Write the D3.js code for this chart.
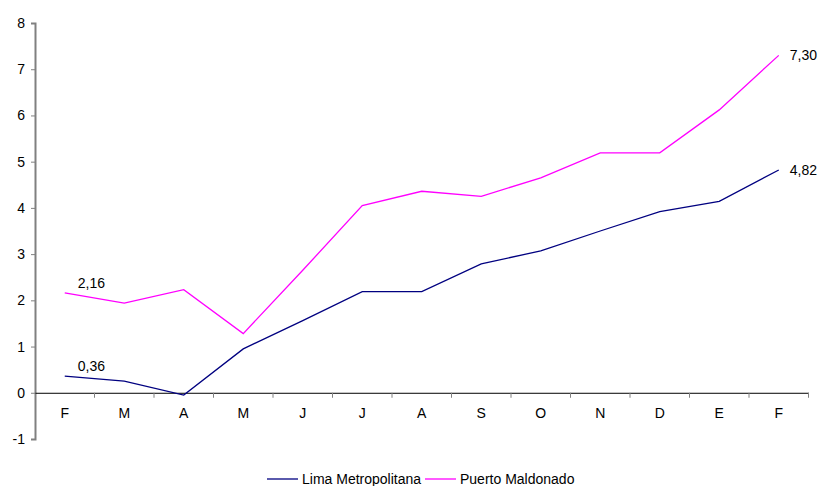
<!DOCTYPE html>
<html>
<head>
<meta charset="utf-8">
<script src="https://cdn.jsdelivr.net/npm/d3@7"></script>
<style>
  body { margin: 0; background: #fff; }
  text { font-family: "Liberation Sans", Arial, sans-serif; fill: #000; }
</style>
</head>
<body>
<div id="container"></div>
<script>
const w = 819;
const h = 486;

const months = ['F', 'M', 'A', 'M', 'J', 'J', 'A', 'S', 'O', 'N', 'D', 'E', 'F'];
const lima = [0.36, 0.25, -0.05, 0.95, 1.56, 2.19, 2.19, 2.79, 3.07, 3.50, 3.92, 4.14, 4.82];
const puerto = [2.16, 1.94, 2.23, 1.28, 2.65, 4.05, 4.36, 4.25, 4.65, 5.19, 5.19, 6.12, 7.30];
const yTicks = [-1, 0, 1, 2, 3, 4, 5, 6, 7, 8];

const series = [
  { name: 'Lima Metropolitana', values: lima, color: '#000080' },
  { name: 'Puerto Maldonado', values: puerto, color: '#FF00FF' }
];

const plotLeft = 35, plotRight = 808.5, plotTop = 23, plotBottom = 439;
const fontSize = 14;

const svg = d3.select('#container')
              .append('svg')
              .attr('width', w)
              .attr('height', h);

const idx = d3.range(months.length);

const xScale = d3.scaleBand()
                 .domain(idx)
                 .range([plotLeft, plotRight]);

const yScale = d3.scaleLinear()
                 .domain([-1, 8])
                 .range([plotBottom, plotTop]);

// y axis
const yAxis = d3.axisLeft(yScale)
                .tickValues(yTicks)
                .tickSize(4)
                .tickFormat(d => String(d));

const gy = svg.append('g')
              .attr('transform', `translate(${plotLeft}, 0)`)
              .call(yAxis);
gy.select('.domain').attr('stroke', '#808080').attr('stroke-width', 2);
gy.selectAll('.tick line').attr('stroke', '#808080');
gy.selectAll('.tick text').attr('font-size', fontSize).attr('x', -10);

// x axis at zero
const xAxis = d3.axisBottom(xScale)
                .tickFormat(i => months[i])
                .tickSize(0)
                .tickPadding(15);

const gx = svg.append('g')
              .attr('transform', `translate(0, ${yScale(0)})`)
              .call(xAxis);
gx.select('.domain').attr('stroke', '#000').attr('stroke-width', 1);
gx.selectAll('.tick text').attr('font-size', fontSize);

// boundary ticks between categories
gx.selectAll('.bound')
  .data(d3.range(1, months.length + 1))
  .enter()
  .append('line')
  .attr('class', 'bound')
  .attr('x1', i => plotLeft + i * xScale.step())
  .attr('x2', i => plotLeft + i * xScale.step())
  .attr('y1', 0)
  .attr('y2', 5)
  .attr('stroke', '#808080');

// lines
const line = d3.line()
               .x((d, i) => xScale(i) + xScale.bandwidth() / 2)
               .y(d => yScale(d));

svg.selectAll('.series')
   .data(series)
   .enter()
   .append('path')
   .attr('class', 'series')
   .attr('fill', 'none')
   .attr('stroke', d => d.color)
   .attr('stroke-width', 1.3)
   .attr('d', d => line(d.values));

// value labels
const fmt = v => d3.format('.2f')(v).replace('.', ',');
const last = months.length - 1;
const labels = [];
series.forEach(s => {
  labels.push({ i: 0, v: s.values[0], dx: 13, dy: -5 });
  labels.push({ i: last, v: s.values[last], dx: 11, dy: 5 });
});

svg.selectAll('.val')
   .data(labels)
   .enter()
   .append('text')
   .attr('class', 'val')
   .attr('x', d => xScale(d.i) + xScale.bandwidth() / 2 + d.dx)
   .attr('y', d => yScale(d.v) + d.dy)
   .attr('font-size', fontSize)
   .text(d => fmt(d.v));

// legend
const legendPos = [267, 425];
const legend = svg.selectAll('.legend')
                  .data(series)
                  .enter()
                  .append('g')
                  .attr('class', 'legend')
                  .attr('transform', (d, i) => `translate(${legendPos[i]}, 479)`);

legend.append('line')
      .attr('x1', 0)
      .attr('x2', 31)
      .attr('stroke', d => d.color)
      .attr('stroke-width', 1.3);

legend.append('text')
      .attr('x', 35)
      .attr('dy', '.35em')
      .attr('font-size', fontSize)
      .text(d => d.name);
</script>
</body>
</html>
